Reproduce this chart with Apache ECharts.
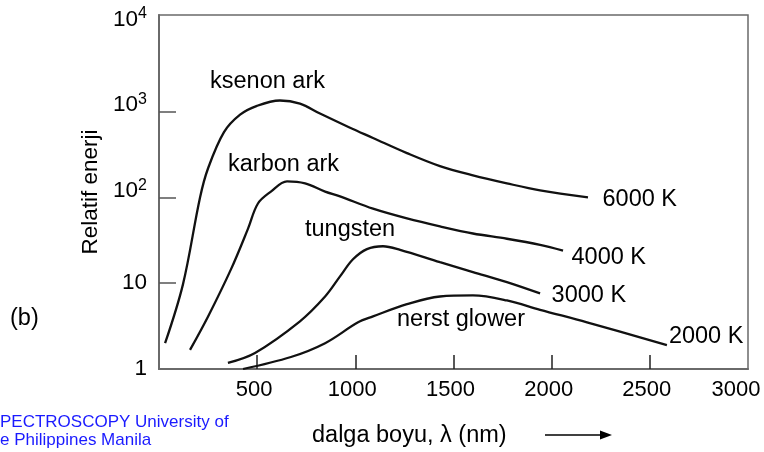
<!DOCTYPE html>
<html>
<head>
<meta charset="utf-8">
<script src="https://cdn.jsdelivr.net/npm/echarts@6/dist/echarts.min.js"></script>
<style>
  html, body { margin: 0; padding: 0; background: #fff; }
  #chart { width: 764px; height: 452px; }
</style>
</head>
<body>
<div id="chart"></div>
<script>
// Axis ticks and labels
const xTickValues = [500, 1000, 1500, 2000, 2500];
const xLabelValues = [500, 1000, 1500, 2000, 2500, 3000];
const yTickValues = [10, 100, 1000];
const yPlainLabelValues = [1, 10];
const yPowerLabelValues = [100, 1000, 10000];

// Source names and colour temperatures
const sourceNames = ['ksenon ark', 'karbon ark', 'tungsten', 'nerst glower'];
const tempLabels = ['6000 K', '4000 K', '3000 K', '2000 K'];

// Wavelength (nm) and relative energy for each source
const xenonX = [31, 122, 209, 250, 331, 413, 499, 616, 718, 820, 973, 1090, 1263, 1431, 1599, 1772, 1941, 2185];
const xenonY = [2.0, 9.7, 100, 219, 577, 922, 1170, 1350, 1240, 950, 650, 494, 329, 232, 181, 146, 121, 100];

const carbonX = [158, 250, 367, 453, 504, 570, 652, 744, 846, 922, 1090, 1263, 1431, 1599, 1772, 1941, 2058];
const carbonY = [1.67, 4.1, 14.6, 43, 85, 117, 154, 146, 117, 103, 74, 57, 46, 38, 33, 28, 24];

const tungstenX = [351, 489, 718, 846, 922, 988, 1059, 1141, 1228, 1431, 1599, 1772, 1941];
const tungstenY = [1.18, 1.54, 3.6, 7.0, 12, 19, 25, 27, 24.5, 17.6, 13.5, 10.3, 7.6];

const nernstX = [428, 672, 846, 1014, 1090, 1263, 1431, 1599, 1772, 1941, 2180, 2587];
const nernstY = [1.0, 1.38, 2.0, 3.5, 4.1, 5.7, 7.0, 7.2, 6.3, 4.9, 3.5, 1.9];

const FONT = "'Liberation Sans', Arial, sans-serif";
const Y_MAX = 13400;

function pairs(xs, ys) {
  return xs.map((x, i) => [x, ys[i]]);
}

const curves = [
  { x: xenonX, y: xenonY, offset: [14.5, 2] },
  { x: carbonX, y: carbonY, offset: [8.5, 7] },
  { x: tungstenX, y: tungstenY, offset: [11.5, 2] },
  { x: nernstX, y: nernstY, offset: [2, -9] }
];

const series = curves.map((c, i) => ({
  name: sourceNames[i],
  type: 'line',
  yAxisIndex: 0,
  data: pairs(c.x, c.y),
  smooth: 0.35,
  showSymbol: false,
  symbol: 'none',
  lineStyle: { color: '#111', width: 2.3 },
  endLabel: {
    show: true,
    formatter: tempLabels[i],
    distance: 0,
    offset: c.offset,
    fontFamily: FONT,
    fontSize: 23.5,
    color: '#000'
  },
  silent: true
}));

function nameText(text, x, y, size) {
  return {
    type: 'text',
    x: x,
    y: y,
    style: {
      text: text,
      fontFamily: FONT,
      fontSize: size || 23.5,
      fill: '#000',
      textVerticalAlign: 'middle'
    }
  };
}

// Shared settings for the stacked y axes (same log scale, label layers)
function logAxis(extra) {
  return Object.assign({
    type: 'log',
    logBase: 10,
    min: 1,
    max: Y_MAX,
    position: 'left',
    axisLine: { show: false, onZero: false },
    axisTick: { show: false },
    splitLine: { show: false }
  }, extra);
}

const chart = echarts.init(document.getElementById('chart'), null, { renderer: 'canvas' });

chart.setOption({
  animation: false,
  backgroundColor: '#fff',
  grid: {
    left: 159,
    top: 15,
    width: 589,
    bottom: 83,
    show: true,
    borderColor: '#6a6a6a',
    borderWidth: 1.5,
    containLabel: false
  },
  xAxis: {
    type: 'value',
    min: 0,
    max: 3000,
    interval: 500,
    axisLine: { show: true, onZero: false, lineStyle: { color: '#6a6a6a', width: 2 } },
    splitLine: { show: false },
    axisTick: {
      show: true,
      inside: true,
      length: 14,
      customValues: xTickValues,
      lineStyle: { color: '#222', width: 1.5 }
    },
    axisLabel: {
      customValues: xLabelValues,
      margin: 10,
      padding: [0, 6, 0, 0],
      fontFamily: FONT,
      fontSize: 22,
      color: '#000',
      formatter: function (v) {
        return v === 3000 ? '{e|' + v + '}' : String(v);
      },
      rich: {
        e: { fontFamily: FONT, fontSize: 22, color: '#000', padding: [0, 18, 0, 0] }
      }
    }
  },
  yAxis: [
    // main axis: line, ticks, name and the plain labels 1 and 10
    logAxis({
      name: 'Relatif enerji',
      nameLocation: 'middle',
      nameGap: 57,
      nameTextStyle: { fontFamily: FONT, fontSize: 22.5, color: '#000' },
      axisLine: { show: true, onZero: false, lineStyle: { color: '#6a6a6a', width: 2 } },
      axisTick: {
        show: true,
        inside: true,
        length: 17,
        customValues: yTickValues,
        lineStyle: { color: '#555', width: 1.5 }
      },
      axisLabel: {
        customValues: yPlainLabelValues,
        margin: 12,
        fontFamily: FONT,
        fontSize: 22.5,
        color: '#000',
        formatter: function (v) { return String(v); }
      }
    }),
    // base "10" of the powers of ten, raised a little above its tick
    logAxis({
      axisLabel: {
        customValues: yPowerLabelValues,
        margin: 21,
        verticalAlign: 'bottom',
        lineHeight: 13,
        fontFamily: FONT,
        fontSize: 22.5,
        color: '#000',
        formatter: function () { return '10'; }
      }
    }),
    // exponents of the powers of ten
    logAxis({
      axisLabel: {
        customValues: yPowerLabelValues,
        margin: 12,
        verticalAlign: 'bottom',
        lineHeight: 24,
        fontFamily: FONT,
        fontSize: 16,
        color: '#000',
        formatter: function (v) { return String(Math.round(Math.log10(v))); }
      }
    })
  ],
  series: series,
  graphic: [
    nameText(sourceNames[0], 210, 82),
    nameText(sourceNames[1], 228, 165),
    nameText(sourceNames[2], 305, 230),
    nameText(sourceNames[3], 397, 320),
    nameText('(b)', 10, 319),
    nameText('dalga boyu, \u03bb (nm)', 312, 436, 23.5),
    {
      type: 'line',
      shape: { x1: 545, y1: 435, x2: 603, y2: 435 },
      style: { stroke: '#000', lineWidth: 1.5 }
    },
    {
      type: 'polygon',
      shape: { points: [[612, 435], [600, 430.5], [600, 439.5]] },
      style: { fill: '#000' }
    },
    {
      type: 'text',
      x: 0,
      y: 422,
      style: {
        text: 'PECTROSCOPY University of',
        fontFamily: FONT,
        fontSize: 17,
        fill: '#1a1aff',
        textVerticalAlign: 'middle'
      }
    },
    {
      type: 'text',
      x: 0,
      y: 440,
      style: {
        text: 'e Philippines Manila',
        fontFamily: FONT,
        fontSize: 17,
        fill: '#1a1aff',
        textVerticalAlign: 'middle'
      }
    }
  ]
});
</script>
</body>
</html>
